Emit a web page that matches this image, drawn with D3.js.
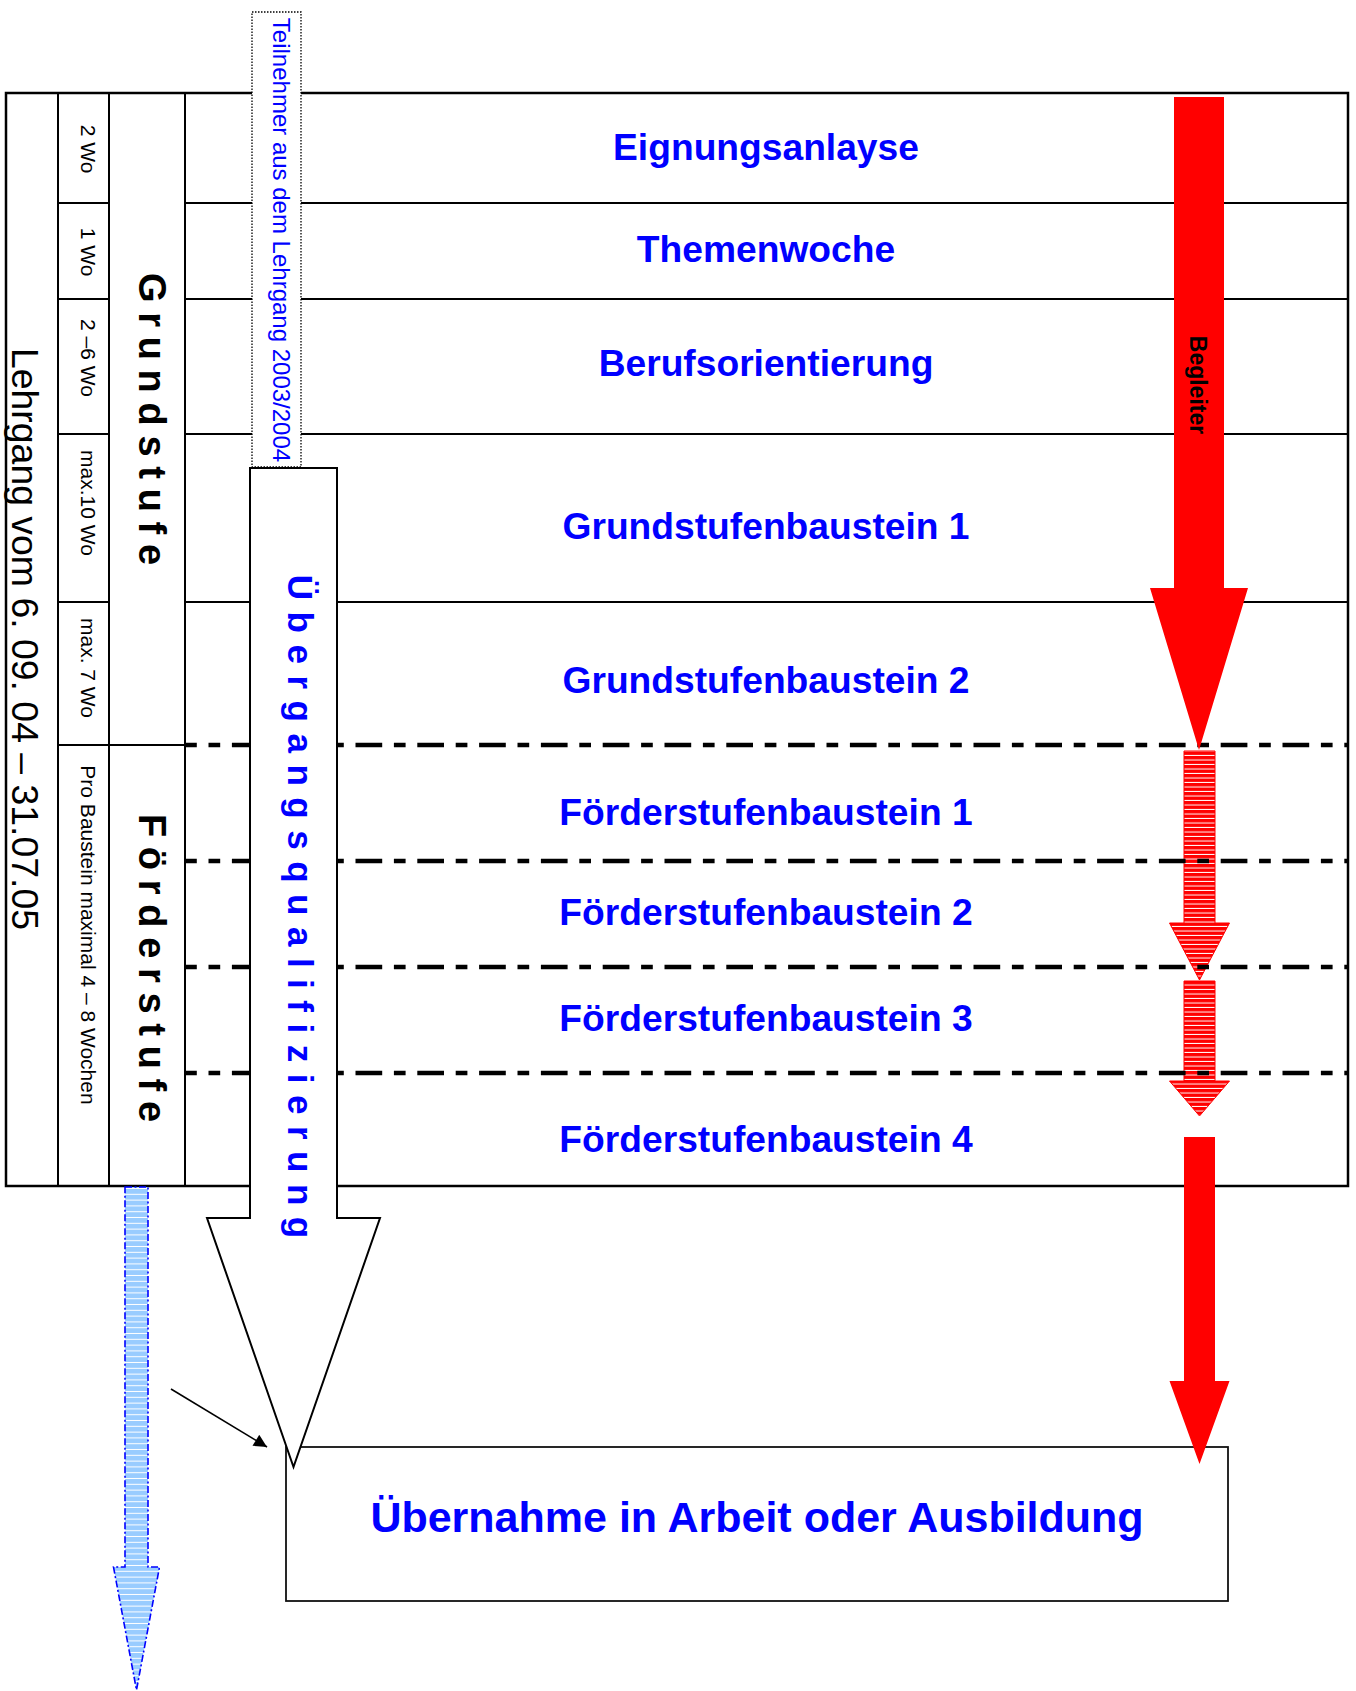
<!DOCTYPE html>
<html>
<head>
<meta charset="utf-8">
<script src="https://cdn.jsdelivr.net/npm/d3@7"></script>
<style>
  body { margin: 0; background: #fff; }
  svg { display: block; font-family: "Liberation Sans", Arial, sans-serif; }
</style>
</head>
<body>
<svg id="chart" width="1356" height="1691"></svg>
<script>
// Phasen des Lehrgangs (große Spalte rechts)
const phases = [
  "Eignungsanlayse", "Themenwoche", "Berufsorientierung",
  "Grundstufenbaustein 1", "Grundstufenbaustein 2",
  "Förderstufenbaustein 1", "Förderstufenbaustein 2",
  "Förderstufenbaustein 3", "Förderstufenbaustein 4"
];
// Dauer je Phase (schmale Spalte)
const durations = ["2 Wo", "1 Wo", "2 –6 Wo", "max.10 Wo", "max. 7 Wo", "Pro Baustein maximal 4 – 8 Wochen"];
// Stufen
const stages = ["Grundstufe", "Förderstufe"];
const courseText = "Lehrgang vom 6. 09. 04 – 31.07.05";
const participantsText = "Teilnehmer aus dem Lehrgang 2003/2004";
const transitionText = "Übergangsqualifizierung";
const companionText = "Begleiter";
const outcomeText = "Übernahme in Arbeit oder Ausbildung";

//---------------------------------------------------------------------------------------
// Layout (Pixel)
const rowEdges = [93, 203, 299, 434, 602, 745, 861, 967, 1073, 1186];
const colEdges = [6, 58, 109, 185, 1348];
const phaseBaseline = [160, 262, 376, 539, 693, 825, 925, 1031, 1152];
const durationCenter = [149, 252, 358, 503, 668, 935];
const stageCenter = [419, 968];

const blue = "#0000ff";
const red = "#ff0000";

const svg = d3.select("#chart");

// Muster für schraffierte Pfeile
const defs = svg.append("defs");
function hatch(id, bg, step) {
  const p = defs.append("pattern")
    .attr("id", id)
    .attr("patternUnits", "userSpaceOnUse")
    .attr("width", 20).attr("height", step);
  p.append("rect").attr("width", 20).attr("height", step).attr("fill", bg);
  p.append("rect").attr("y", step - 1).attr("width", 20).attr("height", 1).attr("fill", "#fff");
}
hatch("hatchRed", red, 4.5);
hatch("hatchBlue", "#99ccff", 5.8);

defs.append("marker")
  .attr("id", "tip")
  .attr("viewBox", "0 0 10 10")
  .attr("refX", 10).attr("refY", 5)
  .attr("markerWidth", 16).attr("markerHeight", 13)
  .attr("markerUnits", "userSpaceOnUse")
  .attr("orient", "auto")
  .append("path").attr("d", "M0,0 L10,5 L0,10 Z").attr("fill", "#000");

// Pfeil nach unten als Polygon
function arrowPath(cx, top, halfShaft, headY, halfHead, tipY) {
  const pts = [
    [cx - halfShaft, top], [cx + halfShaft, top], [cx + halfShaft, headY],
    [cx + halfHead, headY], [cx, tipY], [cx - halfHead, headY], [cx - halfShaft, headY]
  ];
  return d3.line()(pts) + "Z";
}

//---------------------------------------------------------------------------------------
// Tabelle
const grid = svg.append("g").attr("stroke", "#000").attr("fill", "none");

grid.append("rect")
  .attr("x", colEdges[0]).attr("y", rowEdges[0])
  .attr("width", colEdges[4] - colEdges[0]).attr("height", rowEdges[9] - rowEdges[0])
  .attr("stroke-width", 2.5);

grid.selectAll("line.col")
  .data(colEdges.slice(1, 4))
  .join("line")
  .attr("x1", d => d).attr("x2", d => d)
  .attr("y1", rowEdges[0]).attr("y2", rowEdges[9])
  .attr("stroke-width", 2);

// durchgezogene Zeilenlinien (Grundstufe)
const solidRows = rowEdges.slice(1, 5);
grid.selectAll("line.rowA")
  .data(solidRows)
  .join("line")
  .attr("x1", colEdges[1]).attr("x2", colEdges[2])
  .attr("y1", d => d).attr("y2", d => d)
  .attr("stroke-width", 2);
grid.selectAll("line.rowB")
  .data(solidRows)
  .join("line")
  .attr("x1", colEdges[3]).attr("x2", colEdges[4])
  .attr("y1", d => d).attr("y2", d => d)
  .attr("stroke-width", 2);
grid.append("line")
  .attr("x1", colEdges[1]).attr("x2", colEdges[3])
  .attr("y1", rowEdges[5]).attr("y2", rowEdges[5])
  .attr("stroke-width", 2);

// schraffierte rote Pfeile (Förderstufe)
const hatchArrows = [[751, 923, 980], [981, 1081, 1116]];
svg.selectAll("path.hatch")
  .data(hatchArrows)
  .join("path")
  .attr("d", d => arrowPath(1199.5, d[0], 15.5, d[1], 30, d[2]))
  .attr("fill", "url(#hatchRed)")
  .attr("stroke", red).attr("stroke-width", 1);

// gestrichelte Linien (Förderstufe)
svg.append("g")
  .selectAll("line")
  .data(rowEdges.slice(5, 9))
  .join("line")
  .attr("x1", colEdges[3]).attr("x2", colEdges[4])
  .attr("y1", d => d).attr("y2", d => d)
  .attr("stroke", "#000").attr("stroke-width", 4.5)
  .attr("stroke-dasharray", "26.7 11.7 11.7 11.7")
  .attr("stroke-dashoffset", 14.9);

// rote Pfeile (Begleiter)
svg.append("path")
  .attr("d", arrowPath(1199, 97, 25, 588, 49, 750))
  .attr("fill", red);

// Ergebnis-Kasten
svg.append("rect")
  .attr("x", 286).attr("y", 1447).attr("width", 942).attr("height", 154)
  .attr("fill", "#fff").attr("stroke", "#111").attr("stroke-width", 1.8);

svg.append("path")
  .attr("d", arrowPath(1199.5, 1137, 15.5, 1381, 30, 1464))
  .attr("fill", red);

// Teilnehmer-Kasten (gepunktet)
svg.append("rect")
  .attr("x", 252).attr("y", 12).attr("width", 49).attr("height", 455)
  .attr("fill", "#fff").attr("stroke", "#000").attr("stroke-width", 1.3)
  .attr("stroke-dasharray", "1.5 1.5");

// Übergangsqualifizierung-Pfeil
svg.append("path")
  .attr("d", arrowPath(293.5, 468, 43.5, 1218, 86.5, 1467))
  .attr("fill", "#fff").attr("stroke", "#000").attr("stroke-width", 2);

// blauer Pfeil unter der Förderstufe
svg.append("path")
  .attr("d", arrowPath(136.5, 1187, 11.5, 1567, 23, 1690))
  .attr("fill", "url(#hatchBlue)")
  .attr("stroke", blue).attr("stroke-width", 1.6)
  .attr("stroke-dasharray", "7 2.5 2 2.5");

// kleiner schwarzer Pfeil
svg.append("line")
  .attr("x1", 171).attr("y1", 1389).attr("x2", 267).attr("y2", 1447)
  .attr("stroke", "#000").attr("stroke-width", 1.6)
  .attr("marker-end", "url(#tip)");

//---------------------------------------------------------------------------------------
// Texte
function vText(x, y, txt) {
  return svg.append("text")
    .attr("transform", `translate(${x},${y}) rotate(90)`)
    .attr("text-anchor", "middle")
    .text(txt);
}

vText(12, 639, courseText).attr("font-size", 37.4);

svg.append("g")
  .selectAll("text")
  .data(durations)
  .join("text")
  .attr("transform", (d, i) => `translate(81,${durationCenter[i]}) rotate(90)`)
  .attr("text-anchor", "middle")
  .attr("font-size", 21)
  .text(d => d);

const stageSpacing = 9.7;
svg.append("g")
  .selectAll("text")
  .data(stages)
  .join("text")
  .attr("transform", (d, i) => `translate(139,${stageCenter[i] + stageSpacing / 2}) rotate(90)`)
  .attr("text-anchor", "middle")
  .attr("font-size", 38).attr("font-weight", "bold")
  .style("letter-spacing", stageSpacing + "px")
  .text(d => d);

const transitionSpacing = 11.5;
vText(288, 906.5 + transitionSpacing / 2, transitionText)
  .attr("font-size", 35).attr("font-weight", "bold").attr("fill", blue)
  .style("letter-spacing", transitionSpacing + "px");

vText(273, 240, participantsText).attr("font-size", 24).attr("fill", blue);

vText(1190, 385, companionText).attr("font-size", 23).attr("font-weight", "bold");

svg.append("g")
  .selectAll("text")
  .data(phases)
  .join("text")
  .attr("x", 766)
  .attr("y", (d, i) => phaseBaseline[i])
  .attr("text-anchor", "middle")
  .attr("font-size", 37.2).attr("font-weight", "bold").attr("fill", blue)
  .text(d => d);

svg.append("text")
  .attr("x", 757).attr("y", 1532)
  .attr("text-anchor", "middle")
  .attr("font-size", 43).attr("font-weight", "bold").attr("fill", blue)
  .text(outcomeText);
</script>
</body>
</html>
